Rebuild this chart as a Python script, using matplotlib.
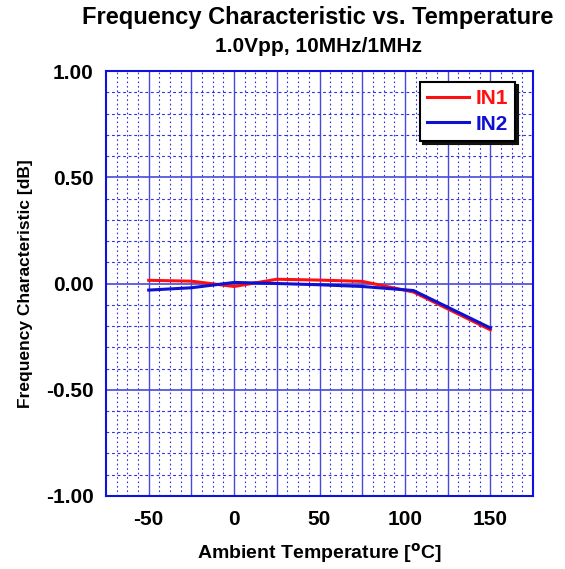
import matplotlib
matplotlib.use('Agg')
import matplotlib.pyplot as plt
import numpy as np

plt.rcParams['font.family'] = ['Liberation Sans', 'DejaVu Sans']
plt.rcParams['font.weight'] = 'bold'

# temperatura ambiente [C]
temps = [-50, -25, 0, 25, 50, 75, 105, 150]
# caracteristica de frecuencia [dB]
in1 = [0.015, 0.011, -0.014, 0.020, 0.016, 0.010, -0.040, -0.218]
in2 = [-0.031, -0.020, 0.005, 0.000, -0.006, -0.014, -0.033, -0.209]

xticks = [-50, 0, 50, 100, 150]
yticks = [-1.0, -0.5, 0.0, 0.5, 1.0]

fig = plt.figure(figsize=(5.65, 5.69), dpi=100)
ax = fig.add_axes([0.1876, 0.1283, 0.7558, 0.7469])

ax.set_xlim(-75, 175)
ax.set_ylim(-1.0, 1.0)

# rejilla: menores punteadas, mayores solidas
for xv in np.arange(-75, 175.01, 6.25):
    if abs(xv % 25) > 1e-9:
        ax.axvline(xv, color='#3030e0', lw=0.8, ls=(0, (1.5, 2.5)), zorder=1)
for yv in np.arange(-1.0, 1.001, 0.1):
    if abs(round(yv * 10) % 5) != 0:
        ax.axhline(yv, color='#3030e0', lw=0.8, ls=(0, (2.5, 2.5)), zorder=1)
for xv in np.arange(-50, 175, 25):
    ax.axvline(xv, color='#4848dc', lw=1.0, zorder=1)
for yv in [-0.5, 0.0, 0.5]:
    ax.axhline(yv, color='#4848dc', lw=1.2, zorder=1)

ax.plot(temps, in1, color='#ff1010', lw=2.2, label='IN1', zorder=3)
ax.plot(temps, in2, color='#1010d0', lw=2.2, label='IN2', zorder=3)

ax.set_xticks(xticks)
ax.set_xticklabels([str(t) for t in xticks])
ax.set_yticks(yticks)
ax.set_yticklabels(['%.2f' % v for v in yticks])
ax.tick_params(length=0, labelsize=15)
ax.tick_params(axis='x', pad=10)
ax.tick_params(axis='y', pad=9)
for lab in ax.get_xticklabels() + ax.get_yticklabels():
    lab.set_fontweight('bold')

for s in ax.spines.values():
    s.set_color('#1010e0')
    s.set_linewidth(1.5)

ax.set_xlabel('Ambient Temperature [$\\mathbf{^{o}}$C]', fontsize=14, fontweight='bold', labelpad=9)
ax.set_ylabel('Frequency Characteristic [dB]', fontsize=12.5, fontweight='bold', labelpad=9)

fig.text(0.563, 0.969, 'Frequency Characteristic vs. Temperature', ha='center', va='center',
         fontsize=17, fontweight='bold')
fig.text(0.563, 0.918, '1.0Vpp, 10MHz/1MHz', ha='center', va='center',
         fontsize=15, fontweight='bold')

leg = ax.legend(loc='upper right', bbox_to_anchor=(0.958, 0.974), fontsize=15,
                frameon=True, fancybox=False, shadow={'color': '#101010', 'alpha': 1.0},
                handlelength=2.0, borderpad=0.35, labelspacing=0.3, handletextpad=0.3,
                borderaxespad=0.0)
leg.get_frame().set_edgecolor('black')
leg.get_frame().set_linewidth(1.5)
for txt, c in zip(leg.get_texts(), ['#ff1010', '#1010d0']):
    txt.set_color(c)
    txt.set_fontweight('bold')

plt.savefig('out.png', dpi=100)
